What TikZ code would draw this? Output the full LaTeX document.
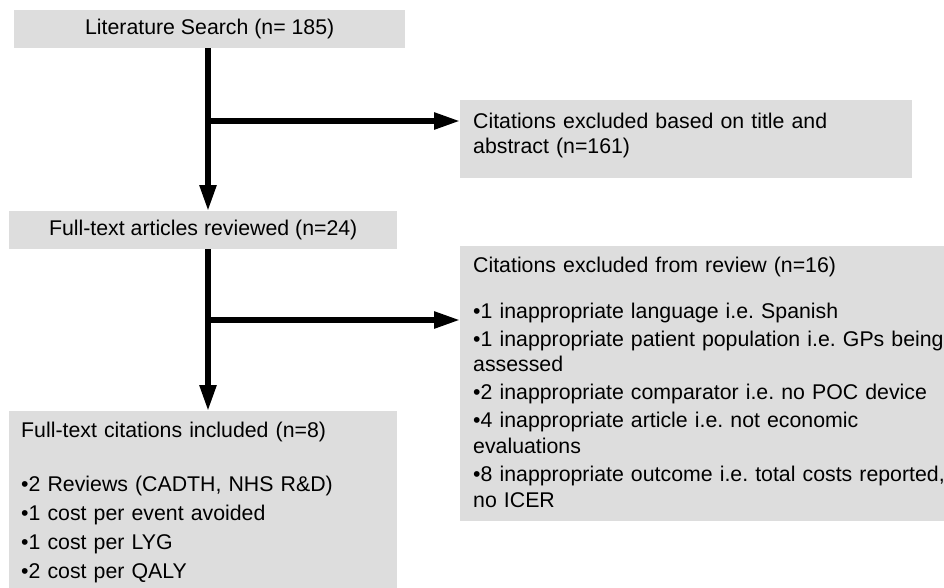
\documentclass[tikz,border=0pt]{standalone}
\usepackage{fontspec}
\setmainfont{Liberation Sans}
\usepackage{tikz}
\usetikzlibrary{arrows.meta}
\definecolor{boxgray}{RGB}{221,221,221}
\frenchspacing

\begin{document}
\begin{tikzpicture}[x=1pt, y=-1pt,
    font=\fontsize{21.3}{25.7}\selectfont,
    stagebox/.style={fill=boxgray, anchor=north west, inner sep=0pt, align=center},
    listbox/.style={fill=boxgray, anchor=north west, inner xsep=13pt, inner ysep=0pt, align=left},
    flow/.style={line width=5.5pt, -{Triangle[length=26pt,width=16pt]}}]
    \useasboundingbox (0,0) rectangle (944,587);

    % Main stages
    \node[stagebox, minimum width=391pt, minimum height=38pt] (search) at (14,10) {Literature Search (n= 185)};
    \node[stagebox, minimum width=388pt, minimum height=38pt] (reviewed) at (9,211) {Full-text articles reviewed (n=24)};
    \node[listbox, inner xsep=12pt, text width=364pt, text height=26.5pt, text depth=160pt] (included) at (9,411)
        {Full-text citations included (n=8)\\[28.3pt]
         •2 Reviews (CADTH, NHS R\&D)\\[3.3pt]
         •1 cost per event avoided\\[3.3pt]
         •1 cost per LYG\\[3.3pt]
         •2 cost per QALY};

    % Exclusions
    \node[listbox, text width=426pt, text height=28pt, text depth=50pt] (excl1) at (460,100)
        {Citations excluded based on title and\\abstract (n=161)};
    \node[listbox, text width=520pt, text height=26pt, text depth=249pt] (excl2) at (460,246)
        {Citations excluded from review (n=16)\\[20.3pt]
         •1 inappropriate language i.e. Spanish\\[2.3pt]
         •1 inappropriate patient population i.e. GPs being\\assessed\\[2.3pt]
         •2 inappropriate comparator i.e. no POC device\\[2.3pt]
         •4 inappropriate article i.e. not economic\\evaluations\\[2.3pt]
         •8 inappropriate outcome i.e. total costs reported,\\no ICER};

    % Arrows
    \coordinate (spine) at (208,0);
    \coordinate (split1) at (208,121);
    \coordinate (split2) at (208,320);
    \draw[flow] (search.south -| spine) -- (reviewed.north -| spine);
    \draw[flow] (split1) -- (split1 -| excl1.west);
    \draw[flow] (reviewed.south -| spine) -- (included.north -| spine);
    \draw[flow] (split2) -- (split2 -| excl2.west);
\end{tikzpicture}
\end{document}
